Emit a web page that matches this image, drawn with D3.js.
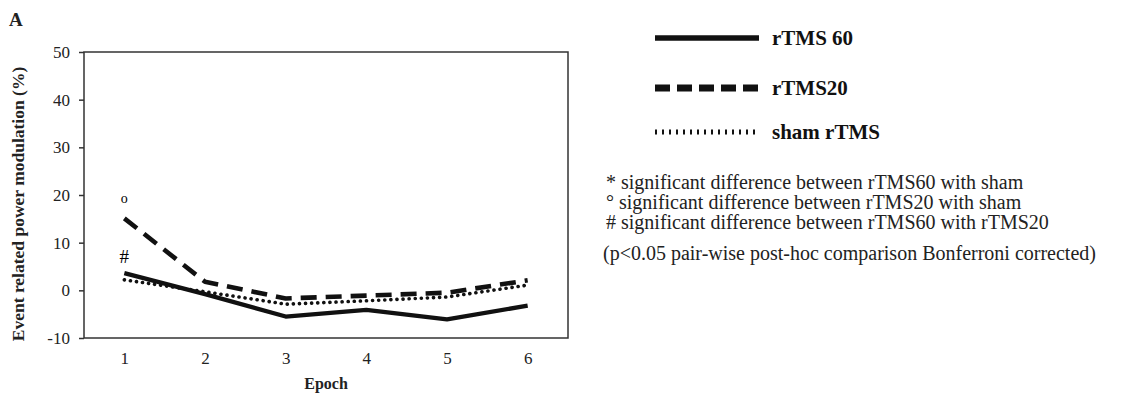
<!DOCTYPE html>
<html>
<head>
<meta charset="utf-8">
<script src="https://cdn.jsdelivr.net/npm/d3@7"></script>
<style>
  html, body { margin: 0; padding: 0; background: #fff; }
  svg { display: block; font-family: "Liberation Serif", "Times New Roman", serif; }
</style>
</head>
<body>
<svg id="chart" width="1133" height="397"></svg>
<script>
const epochs = [1, 2, 3, 4, 5, 6];
const rtms60 = [3.6, -0.8, -5.5, -4.1, -6.1, -3.2];
const rtms20 = [15.1, 1.8, -1.7, -1.1, -0.5, 2.1];
const sham = [2.2, -0.3, -2.9, -2.2, -1.4, 1.1];
const yTicks = [-10, 0, 10, 20, 30, 40, 50];
const seriesNames = ["rTMS 60", "rTMS20", "sham rTMS"];
const annotations = [
  { epoch: 1, value: 19.0, label: "o" },
  { epoch: 1, value: 6.6, label: "#" }
];
const notes = [
  "* significant difference between rTMS60 with sham",
  "\u00b0 significant difference between rTMS20 with sham",
  "# significant difference between rTMS60 with rTMS20"
];
const footnote = "(p<0.05 pair-wise post-hoc comparison Bonferroni corrected)";

const svg = d3.select("#chart");
const m = { left: 84, right: 568, top: 52, bottom: 338 };

const x = d3.scaleLinear().domain([0.5, 6.5]).range([m.left, m.right]);
const y = d3.scaleLinear().domain([-10, 50]).range([m.bottom, m.top]);

const styles = [
  { width: 4.3, dash: null, cap: "butt" },
  { width: 4.6, dash: "16,9", cap: "butt" },
  { width: 3.6, dash: "0.1,6", cap: "round" }
];
const allSeries = [rtms60, rtms20, sham];

// Frame
svg.append("rect")
  .attr("x", m.left).attr("y", m.top)
  .attr("width", m.right - m.left).attr("height", m.bottom - m.top)
  .attr("fill", "none").attr("stroke", "#333").attr("stroke-width", 1.5);

// Y axis
const yAxis = svg.append("g")
  .attr("transform", `translate(${m.left},0)`)
  .call(d3.axisLeft(y).tickValues(yTicks).tickSize(5).tickPadding(9).tickFormat(d => String(d)));
yAxis.select(".domain").remove();
yAxis.selectAll("line").attr("stroke", "#333").attr("stroke-width", 1.5);
yAxis.selectAll("text").attr("font-size", 17).attr("fill", "#222")
  .attr("font-family", "Liberation Serif");

// X axis
const xAxis = svg.append("g")
  .attr("transform", `translate(0,${m.bottom})`)
  .call(d3.axisBottom(x).tickValues(epochs).tickSize(0).tickPadding(14).tickFormat(d => String(d)));
xAxis.select(".domain").remove();
xAxis.selectAll("text").attr("font-size", 17).attr("fill", "#222")
  .attr("font-family", "Liberation Serif");

// Axis titles
svg.append("text")
  .attr("x", 326).attr("y", 389)
  .attr("text-anchor", "middle")
  .attr("font-size", 16).attr("font-weight", "bold").attr("fill", "#222")
  .text("Epoch");

svg.append("text")
  .attr("transform", `translate(24,${(m.top + m.bottom) / 2 + 9}) rotate(-90)`)
  .attr("text-anchor", "middle")
  .attr("font-size", 17.5).attr("font-weight", "bold").attr("fill", "#222")
  .text("Event related power modulation (%)");

svg.append("text")
  .attr("x", 9).attr("y", 26)
  .attr("font-size", 19).attr("font-weight", "bold").attr("fill", "#222")
  .text("A");

// Lines
const line = d3.line().x((d, i) => x(epochs[i])).y(d => y(d));
allSeries.forEach((s, k) => {
  svg.append("path")
    .datum(s)
    .attr("d", line)
    .attr("fill", "none")
    .attr("stroke", "#111")
    .attr("stroke-width", styles[k].width)
    .attr("stroke-dasharray", styles[k].dash)
    .attr("stroke-linecap", styles[k].cap)
    .attr("stroke-linejoin", "round");
});

// Annotations
svg.selectAll(".annot")
  .data(annotations).enter().append("text")
  .attr("class", "annot")
  .attr("x", d => x(d.epoch))
  .attr("y", d => y(d.value))
  .attr("text-anchor", "middle")
  .attr("dominant-baseline", "middle")
  .attr("font-size", d => d.label === "o" ? 14 : 19)
  .attr("fill", "#000")
  .text(d => d.label);

// Legend
const legY = [38, 88, 132];
const legStyles = [
  { width: 5.5, dash: null, cap: "butt" },
  { width: 7, dash: "15,7", cap: "butt" },
  { width: 5, dash: "2,5", cap: "butt" }
];
seriesNames.forEach((name, k) => {
  svg.append("line")
    .attr("x1", 655).attr("x2", 759)
    .attr("y1", legY[k]).attr("y2", legY[k])
    .attr("stroke", "#111")
    .attr("stroke-width", legStyles[k].width)
    .attr("stroke-dasharray", legStyles[k].dash)
    .attr("stroke-linecap", legStyles[k].cap);
  svg.append("text")
    .attr("x", 772).attr("y", legY[k] + 7)
    .attr("font-size", 21).attr("font-weight", "bold").attr("fill", "#111")
    .text(name);
});

// Notes
notes.forEach((t, i) => {
  svg.append("text")
    .attr("x", 606).attr("y", 189 + i * 20)
    .attr("font-size", 20).attr("fill", "#222")
    .text(t);
});
svg.append("text")
  .attr("x", 603).attr("y", 260)
  .attr("font-size", 20).attr("fill", "#222")
  .text(footnote);
</script>
</body>
</html>
